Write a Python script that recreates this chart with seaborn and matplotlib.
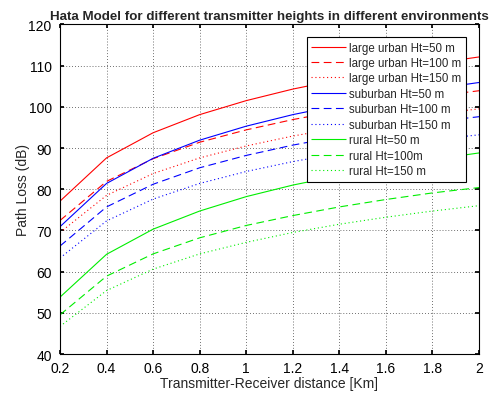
import numpy as np
import pandas as pd
import matplotlib
matplotlib.use("Agg")
import matplotlib.pyplot as plt
import seaborn as sns

distance_km = [0.2, 0.4, 0.6, 0.8, 1.0, 1.2, 1.4, 1.6, 1.8, 2.0]

urban_50 = [77.1, 87.6, 93.7, 98.1, 101.5, 104.3, 106.6, 108.7, 110.5, 112.1]
urban_100 = [72.4, 81.9, 87.4, 91.4, 94.4, 96.9, 99.0, 100.8, 102.5, 103.9]
urban_150 = [69.5, 78.5, 83.8, 87.6, 90.5, 92.9, 94.9, 96.6, 98.2, 99.5]
suburban_50 = [70.9, 81.4, 87.5, 91.9, 95.3, 98.1, 100.4, 102.5, 104.3, 105.9]
suburban_100 = [66.2, 75.7, 81.2, 85.2, 88.2, 90.7, 92.8, 94.6, 96.3, 97.6]
suburban_150 = [63.3, 72.3, 77.6, 81.4, 84.3, 86.7, 88.7, 90.4, 92.0, 93.2]
rural_50 = [53.8, 64.2, 70.3, 74.7, 78.2, 81.0, 83.3, 85.4, 87.2, 88.8]
rural_100 = [49.5, 58.9, 64.3, 68.2, 71.2, 73.6, 75.7, 77.5, 79.1, 80.4]
rural_150 = [46.7, 55.4, 60.6, 64.3, 67.1, 69.5, 71.5, 73.2, 74.7, 76.0]

labels = ["large urban Ht=50 m", "large urban Ht=100 m", "large urban Ht=150 m",
          "suburban Ht=50 m", "suburban Ht=100 m", "suburban Ht=150 m",
          "rural Ht=50 m", "rural Ht=100m", "rural Ht=150 m"]
series = [urban_50, urban_100, urban_150, suburban_50, suburban_100, suburban_150,
          rural_50, rural_100, rural_150]
colors = ["#ff0000"] * 3 + ["#0000ff"] * 3 + ["#00ee00"] * 3
styles = [(0, ()), (0, (7, 4)), (0, (1, 2.5))] * 3

sns.set_theme(style="white")
plt.rcParams["font.family"] = ["Liberation Sans", "DejaVu Sans"]

fig = plt.figure(figsize=(4.9, 4.02), dpi=100)
ax = fig.add_axes([0.1224, 0.1169, 0.8552, 0.8199])

for lab, vals, col, ls in zip(labels, series, colors, styles):
    df = pd.DataFrame({"d": distance_km, "L": vals})
    sns.lineplot(data=df, x="d", y="L", ax=ax, color=col, linewidth=0.8,
                 linestyle=ls, label=lab)

ax.set_xlim(0.2, 2.0)
ax.set_ylim(40, 120)
ax.set_xticks([0.2, 0.4, 0.6, 0.8, 1.0, 1.2, 1.4, 1.6, 1.8, 2.0])
ax.set_xticklabels(["0.2", "0.4", "0.6", "0.8", "1", "1.2", "1.4", "1.6", "1.8", "2"])
ax.set_yticks(range(40, 121, 10))
ax.tick_params(direction="in", length=3, labelsize=10, colors="black",
               top=True, right=True, bottom=True, left=True)
ax.tick_params(axis="x", pad=5)
ax.tick_params(axis="y", pad=6)
ax.grid(True, color="0.25", linestyle=(0, (1, 2.5)), linewidth=0.6)
for s in ax.spines.values():
    s.set_color("black")
    s.set_linewidth(0.8)

ax.set_xlabel("Transmitter-Receiver distance [Km]", fontsize=10, labelpad=1)
ax.set_ylabel("Path Loss (dB)", fontsize=10, labelpad=-1)
ax.set_title("Hata Model for different transmitter heights in different environments",
             fontsize=9.6, fontweight="bold", pad=4)

leg = ax.legend(loc="upper right", bbox_to_anchor=(0.969, 0.962), fontsize=8.3,
                frameon=True, fancybox=False, framealpha=1, edgecolor="black",
                handlelength=3.0, labelspacing=0.3, borderpad=0.4,
                handletextpad=0.3, borderaxespad=0.0)
leg.get_frame().set_linewidth(0.8)

fig.savefig("out.png", dpi=100)
